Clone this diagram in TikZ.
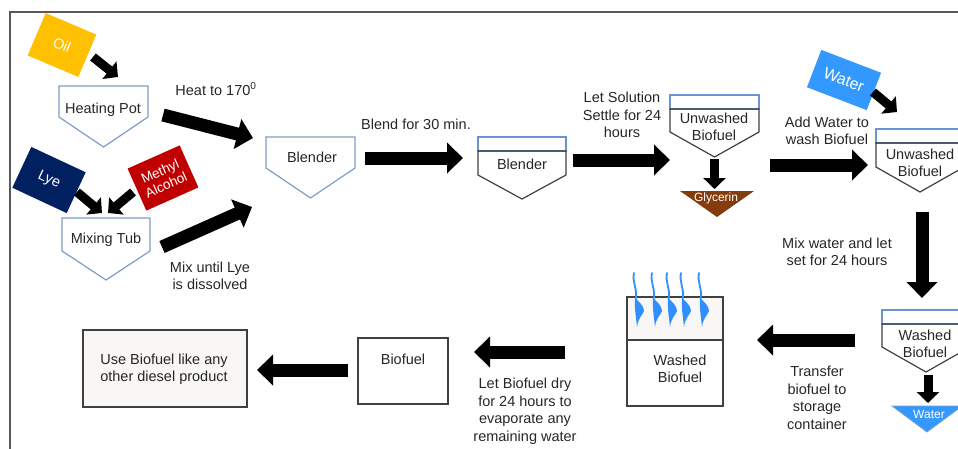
\documentclass[tikz,border=0pt]{standalone}
\usepackage{fontspec}
\setmainfont{Liberation Sans}
\usetikzlibrary{arrows.meta,calc}
\definecolor{txt}{HTML}{262626}
\definecolor{fblue}{HTML}{7F9CC6}
\definecolor{hblue}{HTML}{6A93D0}
\definecolor{bgray}{HTML}{404040}
\definecolor{oilc}{HTML}{FFC000}
\definecolor{lyec}{HTML}{002060}
\definecolor{methc}{HTML}{C00000}
\definecolor{waterc}{HTML}{3399FF}
\definecolor{glyc}{HTML}{843C0C}
\definecolor{framec}{HTML}{595959}
\definecolor{lightfill}{HTML}{F8F7F5}
\definecolor{vapc}{HTML}{2F8FFF}
\begin{document}
\begin{tikzpicture}[x=1pt,y=-1pt,
  sb/.style={inner sep=0pt, outer sep=0pt},
  lbl/.style={font=\fontsize{14.5}{17.5}\selectfont, align=center, text=txt, inner sep=0pt},
  wlbl/.style={font=\fontsize{12}{14}\selectfont, align=center, text=white, inner sep=0pt},
  tilt/.style={inner sep=0pt, outer sep=0pt, font=\fontsize{14.5}{15}\selectfont, text=white, align=center},
  fline/.style={draw=fblue, line width=1.2pt, line join=miter},
  hline/.style={draw=hblue, line width=1.2pt},
  bline/.style={draw=bgray, line width=1.2pt},
  arr/.style={line width=13pt, -{Triangle[length=16pt,width=30pt]}},
  sarr/.style={line width=9pt, -{Triangle[length=11pt,width=22pt]}},
  vapor/.style={draw=vapc, line width=1.8pt, line cap=round},
]
\useasboundingbox (0,0) rectangle (958,448);
\clip (0,0) rectangle (958,448);

% frame
\draw[framec, line width=1.5pt] (958,12) -- (10,12) -- (10,449);

% ---------- tilted source boxes ----------
\node[tilt, fill=oilc, minimum width=55pt, minimum height=46pt, rotate=-23] (oil) at (62,45) {Oil};
\node[tilt, fill=lyec, minimum width=60pt, minimum height=45pt, rotate=-25] (lye) at (49,180) {Lye};
\node[tilt, fill=methc, minimum width=57pt, minimum height=46pt, rotate=24, font=\fontsize{13.5}{15}\selectfont] (meth) at (163,178) {Methyl\\Alcohol};
\node[tilt, fill=waterc, minimum width=64pt, minimum height=40pt, rotate=-21, font=\fontsize{16}{17}\selectfont] (wat1) at (844,80) {Water};

% ---------- shape frames ----------
\node[sb, minimum width=89pt, minimum height=61pt] (hp) at (103.5,116.5) {};
\node[sb, minimum width=88pt, minimum height=62pt] (mt) at (106,249) {};
\node[sb, minimum width=89pt, minimum height=61pt] (bl1) at (310.5,167.5) {};
\node[sb, minimum width=88pt, minimum height=62pt] (bl2) at (522,168) {};
\node[sb, minimum width=89pt, minimum height=62pt] (uw1) at (714.5,126) {};
\node[sb, minimum width=74pt, minimum height=26pt] (gly) at (717,204) {};
\node[sb, minimum width=88pt, minimum height=63pt] (uw2) at (920,160.5) {};
\node[sb, minimum width=88pt, minimum height=62pt] (wf) at (926,341) {};
\node[sb, minimum width=70pt, minimum height=26pt] (wat2) at (927,419) {};
\node[sb, draw=bgray, line width=1.2pt, fill=white, minimum width=96pt, minimum height=109pt] (st) at (675,351.5) {};
\node[sb, draw=bgray, line width=1.2pt, fill=white, minimum width=90pt, minimum height=66pt] (bf) at (403,371) {};
\node[sb, draw=bgray, line width=1.2pt, fill=lightfill, minimum width=164pt, minimum height=77pt] (use) at (165,368.5) {};

% plain funnels (blue outline)
\draw[fline] (hp.north west) -- (hp.north east) -- ($(hp.north east)+(0,31)$) -- (hp.south) -- ($(hp.north west)+(0,31)$) -- cycle;
\draw[fline] (mt.north west) -- (mt.north east) -- ($(mt.north east)+(0,33)$) -- (mt.south) -- ($(mt.north west)+(0,33)$) -- cycle;
\draw[fline] (bl1.north west) -- (bl1.north east) -- ($(bl1.north east)+(0,31)$) -- (bl1.south) -- ($(bl1.north west)+(0,31)$) -- cycle;

% funnels with a header
\draw[hline] (bl2.north west) rectangle ($(bl2.north east)+(0,14)$);
\draw[bline] ($(bl2.north west)+(0,14)$) -- ($(bl2.north east)+(0,14)$) -- ($(bl2.north east)+(0,38)$) -- (bl2.south) -- ($(bl2.north west)+(0,38)$) -- cycle;
\draw[hline] (uw1.north west) rectangle ($(uw1.north east)+(0,14)$);
\draw[bline] ($(uw1.north west)+(0,14)$) -- ($(uw1.north east)+(0,14)$) -- ($(uw1.north east)+(0,37)$) -- (uw1.south) -- ($(uw1.north west)+(0,37)$) -- cycle;
\draw[hline] (uw2.north west) rectangle ($(uw2.north east)+(0,14)$);
\draw[bline] ($(uw2.north west)+(0,14)$) -- ($(uw2.north east)+(0,14)$) -- ($(uw2.north east)+(0,38)$) -- (uw2.south) -- ($(uw2.north west)+(0,38)$) -- cycle;
\draw[hline] (wf.north west) rectangle ($(wf.north east)+(0,14)$);
\draw[bline] ($(wf.north west)+(0,14)$) -- ($(wf.north east)+(0,14)$) -- ($(wf.north east)+(0,37)$) -- (wf.south) -- ($(wf.north west)+(0,37)$) -- cycle;

% outputs (triangles)
\fill[glyc] (gly.north west) -- (gly.north east) -- (gly.south) -- cycle;
\fill[waterc] (wat2.north west) -- (wat2.north east) -- (wat2.south) -- cycle;
\draw[fblue, line width=0.8pt] (wat2.north west) -- (wat2.north east) -- (wat2.south) -- cycle;

% storage container
\fill[lightfill] ($(st.north west)+(0.6,0.6)$) rectangle ($(st.north east)+(-0.6,43)$);
\draw[bline] ($(st.north west)+(0,43)$) -- ($(st.north east)+(0,43)$);
\foreach \x in {635,653,668,682,700} {
  \draw[vapor] (\x-1,273) .. controls (\x-3,281) and (\x+2,288) .. (\x+1,298);
  \fill[vapc] (\x,297) .. controls (\x+3,302) and (\x+9,305) .. (\x+9,311)
     .. controls (\x+7,316) and (\x+3,318) .. (\x+2,327)
     .. controls (\x+1,317) and (\x-1,306) .. cycle;
}

% ---------- labels ----------
\node[lbl] (hpT) at (103,110) {Heating Pot};
\node[lbl] (mtT) at (106,240) {Mixing Tub};
\node[lbl] (bl1T) at (312,157) {Blender};
\node[lbl] (bl2T) at (522,164) {Blender};
\node[lbl] (uw1T) at (714,127) {Unwashed\\Biofuel};
\node[lbl] (uw2T) at (920,163) {Unwashed\\Biofuel};
\node[lbl] (wfT) at (925,344) {Washed\\Biofuel};
\node[lbl] (stT) at (680,369) {Washed\\Biofuel};
\node[lbl] (bfT) at (403,359) {Biofuel};
\node[lbl] (useT) at (164,369) {Use Biofuel like any\\other diesel product};
\node[wlbl] (glyT) at (716,198) {Glycerin};
\node[wlbl] (wat2T) at (929,414) {Water};

\node[lbl] (s1) at (216,89) {Heat to 170\textsuperscript{0}};
\node[lbl] (s2) at (210,276) {Mix until Lye\\is dissolved};
\node[lbl] (s3) at (416,124) {Blend for 30 min.};
\node[lbl] (s4) at (622,115) {Let Solution\\Settle for 24\\hours};
\node[lbl] (s5) at (827,131) {Add Water to\\wash Biofuel};
\node[lbl] (s6) at (837,252) {Mix water and let\\set for 24 hours};
\node[lbl] (s7) at (817,398) {Transfer\\biofuel to\\storage\\container};
\node[lbl] (s8) at (525,411) {Let Biofuel dry\\for 24 hours to\\evaporate any\\remaining water};

% ---------- arrows ----------
\draw[sarr] ($(oil.center)+(31,12)$) -- ($(hp.north)+(14.5,-9)$);
\draw[arr] ($(hp.east)+(15,-1.5)$) -- ($(bl1.north west)+(-13,1)$);
\draw[sarr] ($(lye.center)+(28,12)$) -- ($(mt.north)+(-4,-5)$);
\draw[sarr] ($(meth.center)+(-30,14)$) -- ($(mt.north)+(2,-5)$);
\draw[arr] ($(mt.east)+(12,-2)$) -- ($(bl1.south west)+(-14,9)$);
\draw[arr] ($(bl1.east)+(10,-9.5)$) -- ($(bl2.west)+(-15,-10)$);
\draw[arr] ($(bl2.east)+(7,-8)$) -- ($(uw1.west)+(0,34)$);
\draw[sarr] ($(uw1.south)+(0,2)$) -- ($(gly.north)+(-2.5,-2)$);
\draw[sarr] ($(wat1.center)+(29,12)$) -- ($(uw2.north)+(-23,-17)$);
\draw[arr] ($(uw1.east)+(11,39)$) -- ($(uw2.west)+(-8,4.5)$);
\draw[arr] ($(uw2.south)+(2,20)$) -- ($(wf.north)+(-4,-12)$);
\draw[sarr] ($(wf.south)+(2,3)$) -- ($(wat2.north)+(1,-3)$);
\draw[arr] ($(wf.west)+(-27,-1)$) -- ($(st.east)+(34,-11.5)$);
\draw[arr] ($(st.west)+(-62,0.5)$) -- ($(bf.east)+(26,-19)$);
\draw[arr] ($(bf.west)+(-10,-1)$) -- ($(use.east)+(10,1.5)$);
\end{tikzpicture}
\end{document}
